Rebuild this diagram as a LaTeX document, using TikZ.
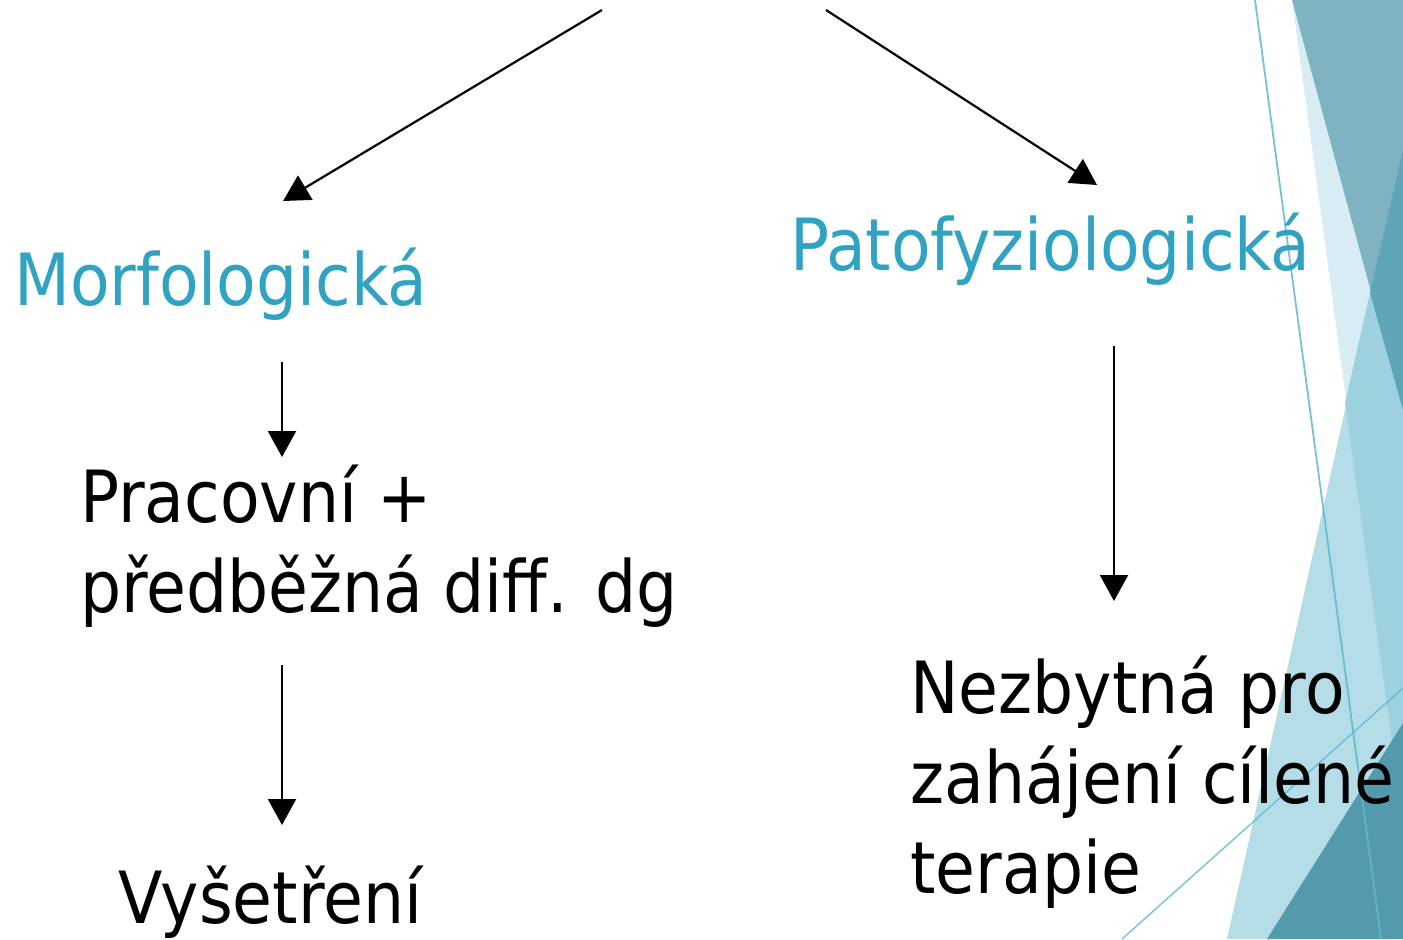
\documentclass[tikz,border=0pt]{standalone}
\usepackage{fontspec}
\setmainfont{DejaVu Sans Condensed}
\usetikzlibrary{arrows.meta}
\definecolor{teal}{HTML}{30A3C2}
\definecolor{sliver}{HTML}{D7EDF3}
\definecolor{lightb}{HTML}{B4DDE7}
\definecolor{midb}{HTML}{9DD1DF}
\definecolor{darktop}{HTML}{7FB3C2}
\definecolor{darkmid}{HTML}{5EA5B8}
\definecolor{darkbot}{HTML}{559AAC}
\definecolor{thinline}{HTML}{5DB9D0}
\tikzset{
  lbl/.style={anchor=base west, inner sep=0pt, font=\fontsize{36}{45}\selectfont, align=left},
  head/.style={lbl, text=teal},
  arr/.style={line width=1.1pt, -{Triangle[length=13pt, width=14pt]}},
}
\begin{document}
\begin{tikzpicture}[x=0.5pt, y=-0.5pt]
\useasboundingbox (0,0) rectangle (1403,939);
% decoration
\fill[sliver] (1292,0) -- (1403,0) -- (1403,820) -- cycle;
\fill[lightb] (1403,150) -- (1227,939) -- (1403,939) -- cycle;
\fill[midb] (1403,150) -- (1370,293) -- (1345,403) -- (1403,820) -- cycle;
\fill[darktop] (1292,0) -- (1403,0) -- (1403,410) -- cycle;
\fill[darkmid] (1403,150) -- (1370,293) -- (1403,410) -- cycle;
\fill[darkbot] (1403,723) -- (1267,939) -- (1403,939) -- cycle;
\coordinate (l1a) at (1255,0);
\coordinate (l1b) at (1381,939);
\coordinate (l2a) at (1122,939);
\coordinate (l2b) at (1403,688);
\draw[thinline, opacity=0.85, line width=0.9pt] (l1a) -- (l1b);
\draw[thinline, opacity=0.85, line width=0.7pt] (l2a) -- (l2b);
% texts
\node[head] (morf) at (14,305) {Morfologická};
\node[head] (pato) at (790,270) {Patofyziologická};
\node[lbl] (prac) at (80,612) {Pracovní +\\předběžná diff. dg};
\node[lbl] (vys) at (118,923) {Vyšetření};
\node[lbl] (nezb) at (910,893) {Nezbytná pro\\zahájení cílené\\terapie};
% arrows
\coordinate (s1) at (602,10);
\coordinate (e1) at (283,201);
\coordinate (s2) at (826,10);
\coordinate (e2) at (1097,185);
\coordinate (s3) at (282,362);
\coordinate (e3) at (282,457);
\coordinate (s4) at (282,665);
\coordinate (e4) at (282,825);
\coordinate (s5) at (1114,346);
\coordinate (e5) at (1114,601);
\draw[arr] (s1) -- (e1);
\draw[arr] (s2) -- (e2);
\draw[arr] (s3) -- (e3);
\draw[arr] (s4) -- (e4);
\draw[arr] (s5) -- (e5);
\end{tikzpicture}
\end{document}
